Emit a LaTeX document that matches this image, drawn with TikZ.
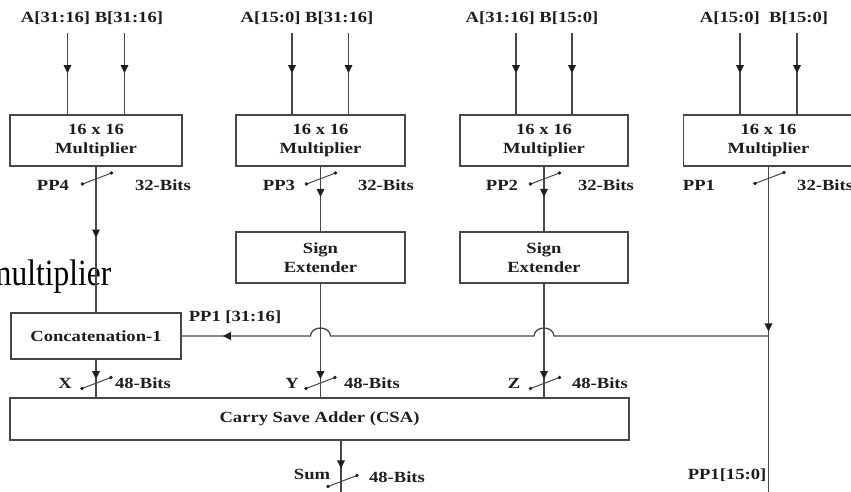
\documentclass[tikz,border=0pt]{standalone}
\usepackage{fontspec}
\setmainfont{Liberation Serif}[FakeStretch=1.2]
\newfontfamily\ovlfont{Liberation Serif}[FakeStretch=0.85]
\usetikzlibrary{arrows.meta,decorations.markings,calc}
\definecolor{linec}{HTML}{474747}
\definecolor{txtc}{HTML}{1E1E1E}
\tikzset{
  box/.style={draw=linec, line width=1.3pt, align=center, inner sep=1pt, text=txtc, font=\bfseries\fontsize{15.5}{19}\selectfont},
  lbl/.style={inner sep=0pt, text=txtc, font=\bfseries\fontsize{15.5}{19}\selectfont},
  wire/.style={draw=linec, line width=1.3pt},
  midarrow/.style={wire, postaction={decorate}, decoration={markings, mark=at position #1 with {\fill[txtc] (1pt,0pt) -- (-7pt,4pt) -- (-7pt,-4pt) -- cycle;}}},
  bus/.pic={\draw[linec, line width=1pt] (-14,-5.5) -- (15,5.5); \fill[txtc] (-14,-5.5) circle (1.8pt); \fill[txtc] (15,5.5) circle (1.8pt);}
}
\begin{document}
\begin{tikzpicture}[x=1pt,y=1pt]
\useasboundingbox (0,0) rectangle (851,491);
\fill[white] (0,0) rectangle (851,491);
% overlay text from surrounding page
\node[anchor=base west, inner sep=0pt, font=\ovlfont\fontsize{37}{40}\selectfont, text=black] (ovl) at (-13,206) {multiplier};

% multipliers
\node[box, minimum width=172pt, minimum height=51pt] (m1) at (96,350.5) {16 x 16\\Multiplier};
\node[box, minimum width=169pt, minimum height=51pt] (m2) at (320.5,350.5) {16 x 16\\Multiplier};
\node[box, minimum width=168pt, minimum height=51pt] (m3) at (544,350.5) {16 x 16\\Multiplier};
\node[box, minimum width=170pt, minimum height=51pt] (m4) at (768.5,350.5) {16 x 16\\Multiplier};
% sign extenders
\node[box, minimum width=169pt, minimum height=51pt] (s2) at (320.5,233.5) {Sign\\Extender};
\node[box, minimum width=168pt, minimum height=51pt] (s3) at (544,233.5) {Sign\\Extender};
% concatenation and CSA
\node[box, minimum width=170pt, minimum height=46pt] (cat) at (96,155) {Concatenation-1};
\node[box, minimum width=619pt, minimum height=42pt] (csa) at (319.5,72) {Carry Save Adder (CSA)};

% input labels
\node[lbl] (l1) at (92,473) {A[31:16]\ B[31:16]};
\node[lbl] (l2) at (307,473) {A[15:0] B[31:16]};
\node[lbl] (l3) at (532,473) {A[31:16] B[15:0]};
\node[lbl] (l4) at (764,473) {A[15:0]\ \ B[15:0]};

% inputs
\coordinate (i1a) at (67.5,458); \coordinate (i1b) at (124.5,458);
\coordinate (i2a) at (292,458);  \coordinate (i2b) at (348.5,458);
\coordinate (i3a) at (516,458);  \coordinate (i3b) at (572,458);
\coordinate (i4a) at (740,458);  \coordinate (i4b) at (797,458);
\foreach \c/\m in {i1a/m1,i1b/m1,i2a/m2,i2b/m2,i3a/m3,i3b/m3,i4a/m4,i4b/m4}
  \draw[midarrow=0.48] (\c) -- (\c |- \m.north);

% multiplier outputs
\draw[midarrow=0.48] (m1.south) -- (cat.north);
\draw[midarrow=0.45] (m2.south) -- (s2.north);
\draw[midarrow=0.45] (m3.south) -- (s3.north);
\coordinate (pp1end) at (768.5,-1);
\draw[midarrow=0.503] (m4.south) -- (pp1end);

% sign extender and concat outputs
\draw[midarrow=0.83] (s2.south) -- (s2.south |- csa.north);
\draw[midarrow=0.83] (s3.south) -- (s3.south |- csa.north);
\draw[midarrow=0.49] (cat.south) -- (cat.south |- csa.north);

% PP1[31:16] feedback with hops
\coordinate (j) at (768.5,155);
\coordinate (h3) at (s3.south |- j);
\coordinate (h2) at (s2.south |- j);
\draw[midarrow=0.93] (j) -- ([xshift=10pt]h3)
  arc[start angle=0, end angle=180, x radius=10pt, y radius=8pt]
  -- ([xshift=10pt]h2)
  arc[start angle=0, end angle=180, x radius=10pt, y radius=8pt]
  -- (cat.east);

% sum output
\coordinate (sumend) at (341,-1);
\draw[midarrow=0.52] (csa.south -| sumend) -- (sumend);

% bus marks
\pic at (96.5,312.5) {bus};
\pic at (320.5,312.5) {bus};
\pic at (544.5,312.5) {bus};
\pic at (769,313) {bus};
\pic at (96,108) {bus};
\pic at (320,108) {bus};
\pic at (544.5,108) {bus};
\pic at (342,10) {bus};

% labels
\node[lbl] (pp4) at (53,306) {PP4};
\node[lbl] (b4) at (163,306) {32-Bits};
\node[lbl] (pp3) at (279,306) {PP3};
\node[lbl] (b3) at (386,306) {32-Bits};
\node[lbl] (pp2) at (502,306) {PP2};
\node[lbl] (b2) at (606,306) {32-Bits};
\node[lbl] (pp1) at (699,306) {PP1};
\node[lbl, anchor=west] (b1) at (797,306) {32-Bits};
\node[lbl] (lx) at (65,108) {X};
\node[lbl] (bx) at (143,108) {48-Bits};
\node[lbl] (ly) at (292,108) {Y};
\node[lbl] (by) at (372,108) {48-Bits};
\node[lbl] (lz) at (514,108) {Z};
\node[lbl] (bz) at (600,108) {48-Bits};
\node[lbl] (lsum) at (312,17) {Sum};
\node[lbl] (bsum) at (397,14) {48-Bits};
\node[lbl] (lpl) at (727,16) {PP1[15:0]};
\node[lbl] (lph) at (235,174) {PP1 [31:16]};
\end{tikzpicture}
\end{document}
